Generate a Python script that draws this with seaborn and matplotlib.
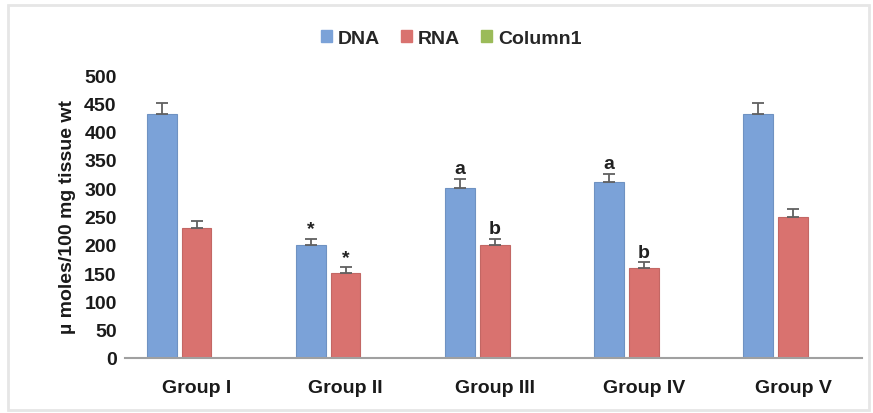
import matplotlib
matplotlib.use("Agg")
import matplotlib.pyplot as plt
import matplotlib.patches as mpatches
import seaborn as sns
import pandas as pd
import numpy as np

groups = ["Group I", "Group II", "Group III", "Group IV", "Group V"]
series = ["DNA", "RNA", "Column1"]
dna = [431, 200, 300, 311, 431]
rna = [230, 150, 200, 159, 249]
col1 = [0, 0, 0, 0, 0]
dna_err = [20, 10, 17, 14, 20]
rna_err = [12, 10, 10, 10, 15]
dna_marks = ["", "*", "a", "a", ""]
rna_marks = ["", "*", "b", "b", ""]

colors = {"DNA": "#7BA2D8", "RNA": "#D9726F", "Column1": "#9BBB59"}

df = pd.DataFrame({
    "group": groups * 3,
    "series": ["DNA"] * 5 + ["RNA"] * 5 + ["Column1"] * 5,
    "value": dna + rna + col1,
})

sns.set_style("white")
plt.rcParams["font.family"] = ["Liberation Sans", "DejaVu Sans"]
plt.rcParams["font.weight"] = "bold"

fig = plt.figure(figsize=(8.73, 4.14), dpi=100)
ax = fig.add_axes([0.1432, 0.1329, 0.8438, 0.6835])

sns.barplot(data=df, x="group", y="value", hue="series", hue_order=series,
            order=groups, palette=colors, width=0.7, gap=0.15, saturation=1,
            linewidth=0.8, ax=ax, legend=False)

# bar edges slightly darker
for p in ax.patches:
    fc = p.get_facecolor()
    p.set_edgecolor(tuple(c * 0.9 for c in fc[:3]) + (1,))

# error bars (upper only) and significance letters
x = np.arange(len(groups))
off = 0.7 / 3
for vals, errs, marks, dx in [(dna, dna_err, dna_marks, -off), (rna, rna_err, rna_marks, 0)]:
    xs = x + dx
    ax.errorbar(xs, vals, yerr=[np.zeros(len(errs)), errs], fmt="none",
                ecolor="#606060", elinewidth=1.3, capsize=4, capthick=1.3)
    for xi, v, e, m in zip(xs, vals, errs, marks):
        if m:
            ax.text(xi, v + e + 3, m, ha="center", va="bottom",
                    fontsize=14, fontweight="bold", color="#222222")

ax.set_xlim(-0.48, 4.46)
ax.set_ylim(0, 500)
ax.set_yticks(range(0, 501, 50))
ax.set_xlabel("")
ax.set_ylabel("µ moles/100 mg tissue wt", fontsize=14, fontweight="bold",
              color="#1a1a1a", labelpad=6)
ax.tick_params(axis="y", labelsize=14, colors="#1a1a1a", length=0, pad=6)
ax.tick_params(axis="x", labelsize=14, colors="#1a1a1a", length=0, pad=15)
for lab in ax.get_xticklabels() + ax.get_yticklabels():
    lab.set_fontweight("bold")

for s in ["top", "right", "left"]:
    ax.spines[s].set_visible(False)
ax.spines["bottom"].set_color("#A0A0A0")
ax.spines["bottom"].set_linewidth(1.5)

handles = [mpatches.Patch(color=colors[s], label=s) for s in series]
fig.legend(handles=handles, loc="center", bbox_to_anchor=(0.517, 0.905), ncol=3,
           frameon=False, handlelength=0.55, handleheight=0.55,
           handletextpad=0.3, columnspacing=1.1, prop={"weight": "bold", "size": 14})

# light chart-area border
fig.add_artist(mpatches.Rectangle((0.009, 0.008), 0.986, 0.978, transform=fig.transFigure,
                                  fill=False, edgecolor="#E6E6E6", linewidth=2))

fig.savefig("out.png", dpi=100)
